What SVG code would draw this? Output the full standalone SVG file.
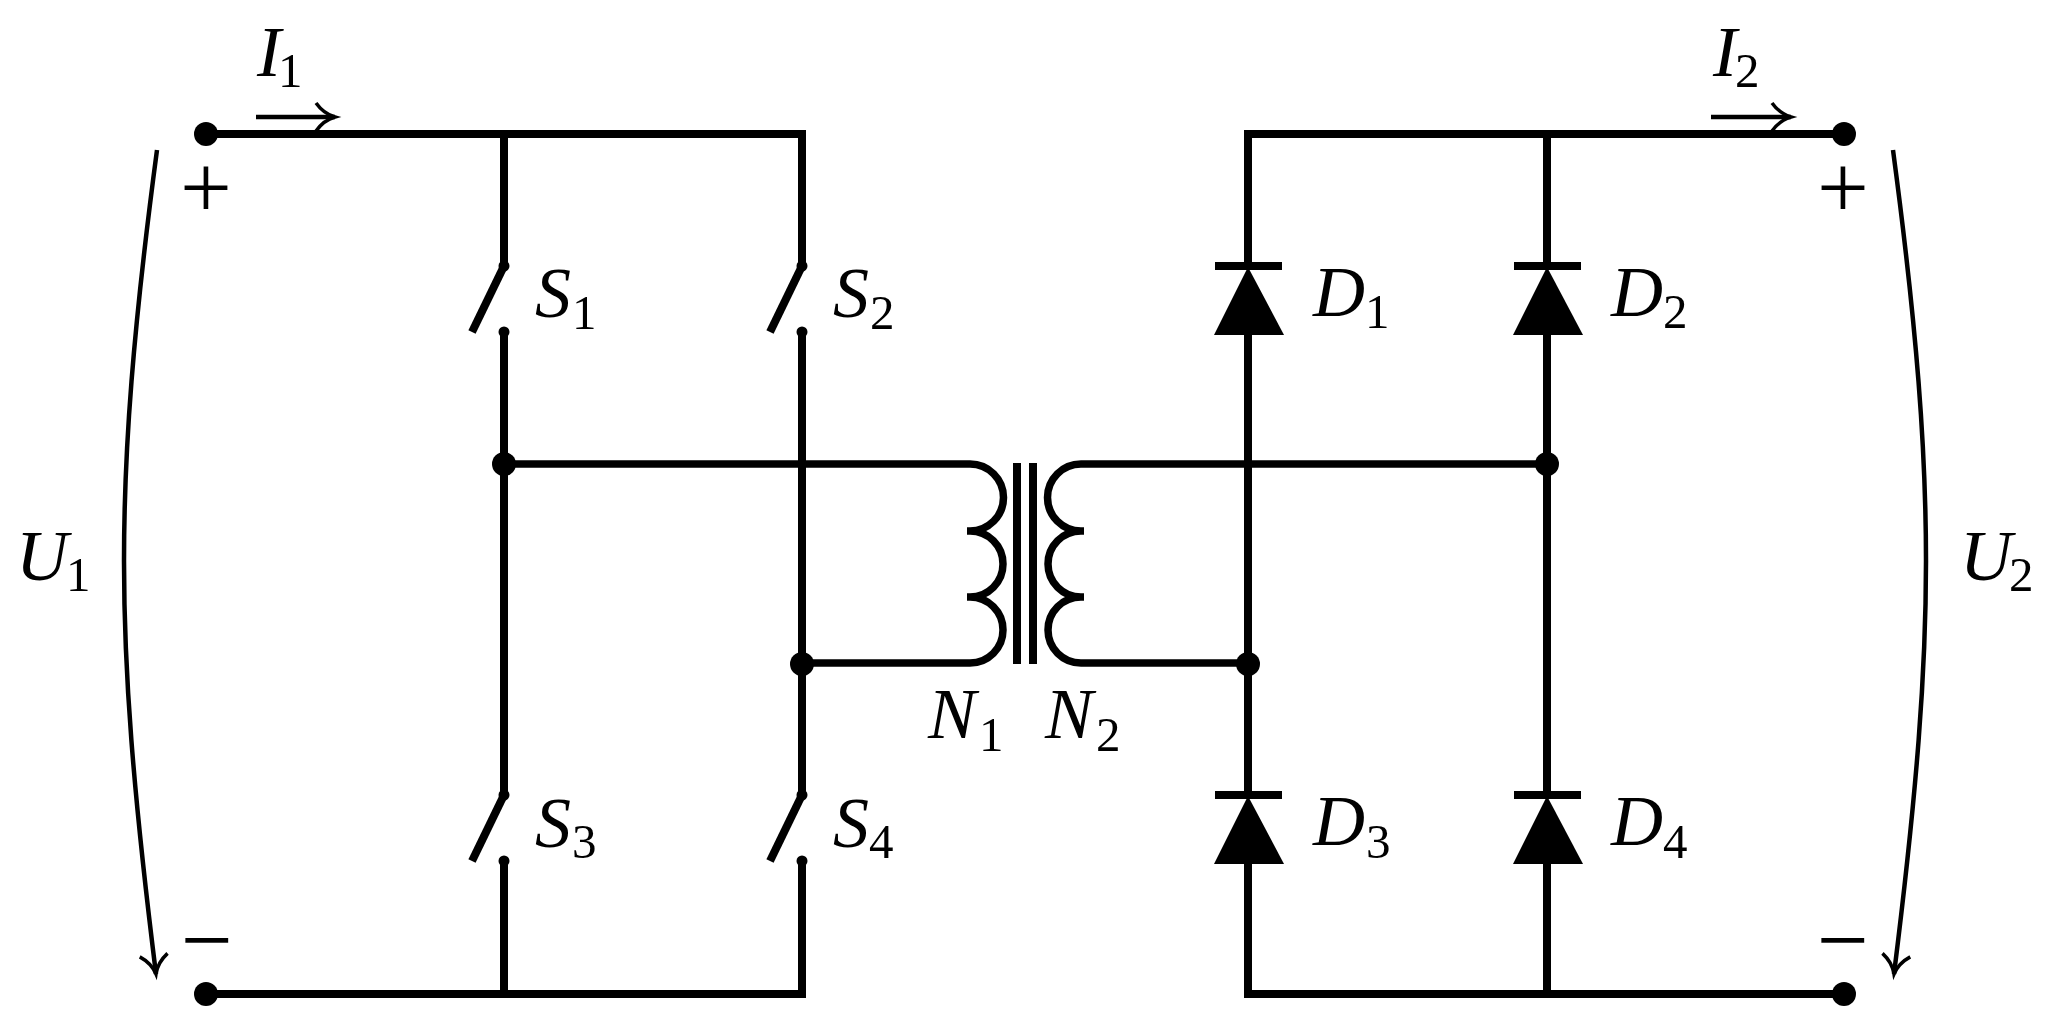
<svg xmlns="http://www.w3.org/2000/svg" width="2048" height="1028" viewBox="0 0 2048 1028">
<style>
.w{fill:none;stroke:#000;stroke-width:8}
.t{fill:none;stroke:#000;stroke-width:7.5}
.th{fill:none;stroke:#000;stroke-width:4.5}
.s{stroke:#000;stroke-width:8;fill:none}
.lab{font-family:"Liberation Serif",serif;font-style:italic;font-size:72px;fill:#000}
.sub{font-family:"Liberation Serif",serif;font-style:normal;font-size:49px;fill:#000}
.sign{font-family:"Liberation Serif",serif;font-size:92px;fill:#000}
</style>
<defs>
<marker id="ah" viewBox="0 0 32 32" refX="22" refY="16" markerWidth="32" markerHeight="32" markerUnits="userSpaceOnUse" orient="auto"><path d="M3 2C8 9 15 14 22 16C15 18 8 23 3 30" fill="none" stroke="#000" stroke-width="3.5"/></marker>
<g id="sw"><path class="s" d="M0 0L-32 66"/><circle cx="0" cy="0" r="5.5"/><circle cx="0" cy="66" r="5.5"/></g>
<g id="di"><path class="s" d="M-33 0H34"/><path d="M0 1L36 69H-34Z"/></g>
</defs>
<g id="connectors">
<path class="w" d="M504 134V266M206 134H802V266M504 332V795M802 332V795M504 861V994M206 994H802V861"/>
<path class="w" d="M1547 134V265M1248 265V134H1844M1248 334V795M1547 334V795M1547 864V994M1248 864V994H1844"/>
<path class="t" d="M504 464H970A33 33 0 0 1 970 531H967M967 531H970A33 33 0 0 1 970 597H967M967 597H970A33 33 0 0 1 970 663H802"/>
<path class="t" d="M1548 464H1081A33 33 0 0 0 1081 531H1084M1084 531H1081A33 33 0 0 0 1081 597H1084M1084 597H1081A33 33 0 0 0 1081 663H1248"/>
<path class="w" d="M1017 463V664M1033 463V664"/>
<path class="th" marker-end="url(#ah)" d="M256 117H335"/>
<path class="th" marker-end="url(#ah)" d="M1711 117H1791"/>
<path class="th" marker-end="url(#ah)" d="M157 150C133 330 124 450 124 561C124 672 133 790 156 974"/>
<path class="th" marker-end="url(#ah)" d="M1893 150C1917 330 1926 450 1926 561C1926 672 1917 790 1894 974"/>
</g>
<g id="term1p"><circle cx="206" cy="134" r="12"/><text class="sign" x="206" y="218" text-anchor="middle">+</text></g>
<g id="term1n"><circle cx="206" cy="994" r="12"/><text class="sign" x="207" y="971" text-anchor="middle">−</text></g>
<g id="term2p"><circle cx="1844" cy="134" r="12"/><text class="sign" x="1843" y="218" text-anchor="middle">+</text></g>
<g id="term2n"><circle cx="1844" cy="994" r="12"/><text class="sign" x="1843" y="971" text-anchor="middle">−</text></g>
<g id="j1"><circle cx="504" cy="464" r="12"/></g>
<g id="j2"><circle cx="802" cy="664" r="12"/></g>
<g id="j3"><circle cx="1248" cy="664" r="12"/></g>
<g id="j4"><circle cx="1547" cy="464" r="12"/></g>
<g id="S1"><use href="#sw" x="504" y="266"/><text class="lab" x="535" y="317">S<tspan class="sub" x="572" y="329">1</tspan></text></g>
<g id="S2"><use href="#sw" x="802" y="266"/><text class="lab" x="833" y="317">S<tspan class="sub" x="870" y="329">2</tspan></text></g>
<g id="S3"><use href="#sw" x="504" y="795"/><text class="lab" x="535" y="847">S<tspan class="sub" x="572" y="858">3</tspan></text></g>
<g id="S4"><use href="#sw" x="802" y="795"/><text class="lab" x="833" y="847">S<tspan class="sub" x="869" y="858">4</tspan></text></g>
<g id="D1"><use href="#di" x="1248" y="266"/><text class="lab" x="1313" y="316">D<tspan class="sub" x="1365" y="328">1</tspan></text></g>
<g id="D2"><use href="#di" x="1547" y="266"/><text class="lab" x="1611" y="316">D<tspan class="sub" x="1663" y="328">2</tspan></text></g>
<g id="D3"><use href="#di" x="1248" y="795"/><text class="lab" x="1313" y="845">D<tspan class="sub" x="1366" y="858">3</tspan></text></g>
<g id="D4"><use href="#di" x="1547" y="795"/><text class="lab" x="1611" y="845">D<tspan class="sub" x="1663" y="858">4</tspan></text></g>
<g id="N1"><text class="lab" x="928" y="738">N<tspan class="sub" x="979" y="751">1</tspan></text></g>
<g id="N2"><text class="lab" x="1045" y="738">N<tspan class="sub" x="1096" y="751">2</tspan></text></g>
<g id="I1"><text class="lab" x="257" y="76">I<tspan class="sub" x="278" y="87">1</tspan></text></g>
<g id="I2"><text class="lab" x="1713" y="76">I<tspan class="sub" x="1735" y="87">2</tspan></text></g>
<g id="U1"><text class="lab" x="16" y="580">U<tspan class="sub" x="66" y="591">1</tspan></text></g>
<g id="U2"><text class="lab" x="1960" y="580">U<tspan class="sub" x="2009" y="591">2</tspan></text></g>
</svg>
